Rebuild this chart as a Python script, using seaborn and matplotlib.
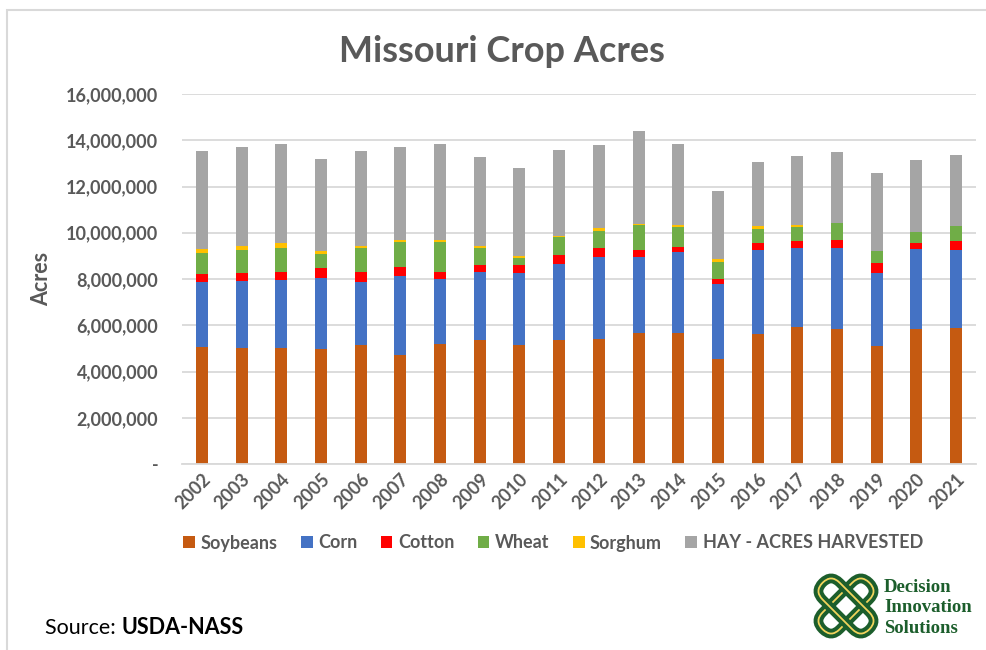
import numpy as np
import matplotlib
matplotlib.use("Agg")
import matplotlib.pyplot as plt
import seaborn as sns
from matplotlib.patches import FancyBboxPatch, Rectangle
from matplotlib.transforms import Affine2D
from matplotlib.ticker import FuncFormatter

years = [str(y) for y in range(2002, 2022)]

# acres (millions)
soybeans = [5.04, 5.00, 5.00, 4.96, 5.13, 4.71, 5.19, 5.37, 5.13, 5.37,
            5.40, 5.65, 5.65, 4.52, 5.61, 5.92, 5.84, 5.09, 5.84, 5.89]
corn = [2.81, 2.90, 2.95, 3.08, 2.72, 3.42, 2.79, 2.94, 3.14, 3.28,
        3.56, 3.31, 3.50, 3.28, 3.64, 3.42, 3.50, 3.17, 3.45, 3.36]
cotton = [0.38, 0.37, 0.36, 0.42, 0.46, 0.37, 0.33, 0.29, 0.33, 0.37,
          0.38, 0.29, 0.24, 0.20, 0.29, 0.29, 0.33, 0.43, 0.28, 0.38]
wheat = [0.88, 0.98, 1.04, 0.60, 1.04, 1.08, 1.27, 0.75, 0.32, 0.79,
         0.75, 1.07, 0.87, 0.75, 0.63, 0.63, 0.75, 0.52, 0.47, 0.66]
sorghum = [0.18, 0.19, 0.19, 0.13, 0.09, 0.09, 0.09, 0.09, 0.07, 0.06,
           0.10, 0.05, 0.06, 0.11, 0.12, 0.06, 0.02, 0.02, 0.01, 0.01]
hay = [4.25, 4.25, 4.29, 3.98, 4.10, 4.02, 4.16, 3.83, 3.81, 3.72,
       3.59, 4.01, 3.51, 2.96, 2.79, 2.99, 3.07, 3.34, 3.09, 3.06]

series = ["Soybeans", "Corn", "Cotton", "Wheat", "Sorghum", "HAY - ACRES HARVESTED"]
values = [soybeans, corn, cotton, wheat, sorghum, hay]
colors = ["#C55A11", "#4472C4", "#FF0000", "#70AD47", "#FFC000", "#A5A5A5"]

GRAY = "#595959"
sns.set_style("white")
plt.rcParams["font.family"] = ["Lato", "DejaVu Sans"]

W, H = 986, 650
fig = plt.figure(figsize=(W / 100, H / 100), dpi=100)
ax = fig.add_axes([182 / W, 1 - 464 / H, 794 / W, 370 / H])

bottom = np.zeros(len(years))
for name, vals, c in zip(series, values, colors):
    acres = np.array(vals) * 1e6
    sns.barplot(x=years, y=acres, bottom=bottom, color=c, width=0.3,
                label=name, ax=ax, saturation=1, linewidth=0)
    bottom += acres

ax.set_ylim(0, 16e6)
ax.set_xlim(-0.5, len(years) - 0.5)
ax.set_yticks(np.arange(0, 16e6 + 1, 2e6))
ax.yaxis.set_major_formatter(FuncFormatter(lambda v, p: "-" if v == 0 else f"{v:,.0f}"))
ax.grid(axis="y", color="#D9D9D9", linewidth=1.3)
ax.set_axisbelow(True)
for s in ["top", "right", "left"]:
    ax.spines[s].set_visible(False)
ax.spines["bottom"].set_color("#D9D9D9")
ax.spines["bottom"].set_linewidth(1.3)
ax.tick_params(axis="both", length=0, colors=GRAY, labelsize=13)
ax.tick_params(axis="y", pad=17)
ax.tick_params(axis="x", pad=5)
for lab in ax.get_yticklabels() + ax.get_xticklabels():
    lab.set_fontweight("bold")
plt.setp(ax.get_xticklabels(), rotation=45, ha="right", rotation_mode="anchor")
ax.set_xlabel("")
ax.set_ylabel("Acres", fontsize=15.5, color=GRAY, fontweight="bold")
ax.yaxis.set_label_coords((52 - 182) / 794, 0.5)
if ax.get_legend():
    ax.get_legend().remove()

fig.text(502 / W, 1 - 52 / H, "Missouri Crop Acres", fontsize=26, color=GRAY,
         fontweight="bold", ha="center", va="center")

handles, labels = ax.get_legend_handles_labels()
leg = fig.legend(handles, labels, loc="center", ncol=6, frameon=False,
                 bbox_to_anchor=(553 / W, 1 - 543 / H), fontsize=13,
                 handlelength=0.65, handleheight=0.65, handletextpad=0.3,
                 columnspacing=1.3, labelcolor=GRAY)
for t in leg.get_texts():
    t.set_fontweight("bold")

# outer frame (top/left edge of the original chart box)
fig.add_artist(Rectangle((7 / W, -0.1), 1.2, 1 - 10 / H + 0.1, transform=fig.transFigure,
                         fill=False, edgecolor="#D9D9D9", linewidth=1.5))

# source note
t1 = fig.text(45 / W, 1 - 628 / H, "Source: ", fontsize=15.5, color="black", va="center")
fig.canvas.draw()
bb = t1.get_window_extent()
fig.text(bb.x1 / W, 1 - 628 / H, "USDA-NASS", fontsize=15.5, color="black",
         fontweight="bold", va="center")

# logo
green = "#1C5E2C"
cx, cy = 846, H - 606
for ang in (45, -45):
    tr = Affine2D().rotate_deg(ang).translate(cx, cy).scale(1 / W, 1 / H) + fig.transFigure
    fig.add_artist(FancyBboxPatch((-33, -12), 66, 24, boxstyle="round,pad=0,rounding_size=12",
                                  transform=tr, fill=False, edgecolor=green, linewidth=7))
    fig.add_artist(FancyBboxPatch((-33, -12), 66, 24, boxstyle="round,pad=0,rounding_size=12",
                                  transform=tr, fill=False, edgecolor="#F2D45C", linewidth=1.3))
fig.text(884 / W, 1 - 608 / H, "Decision\nInnovation\nSolutions", fontsize=13.5,
         color=green, fontweight="bold", family="Liberation Serif", va="center",
         ha="left", linespacing=1.3)

fig.savefig("out.png", dpi=100)
